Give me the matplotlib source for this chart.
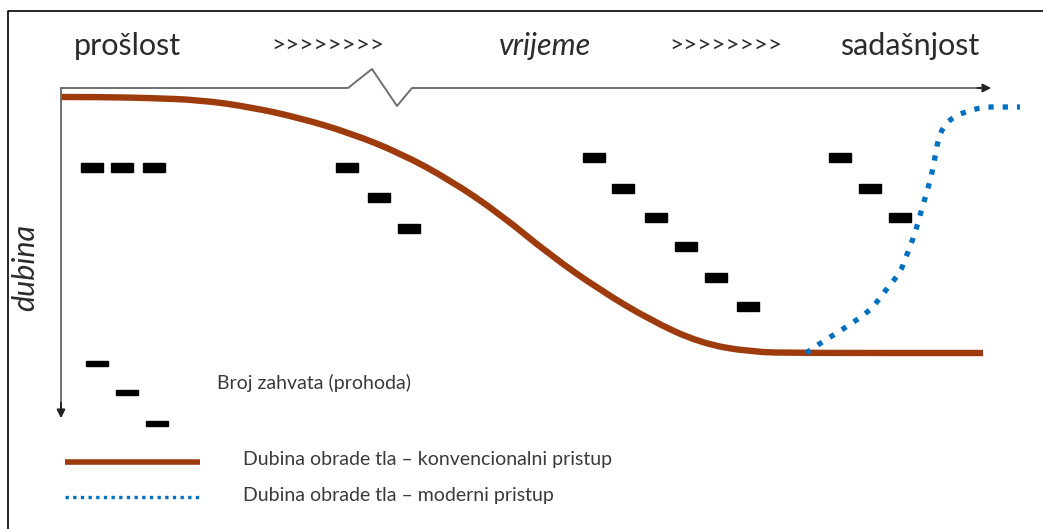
import matplotlib.pyplot as plt
from matplotlib.patches import Rectangle, PathPatch
from matplotlib.path import Path

plt.rcParams['font.family'] = ['Lato', 'DejaVu Sans']

# curve points (pixel space, y down)
conv_x = [61, 100, 150, 200, 250, 300, 350, 400, 450, 500, 550, 600, 650, 700, 750, 800, 983]
conv_y = [97, 97, 98, 100, 107, 118, 133, 153, 180, 214, 255, 290, 320, 343, 352, 353, 353]
mod_x = [806, 822, 837, 852, 867, 878, 888, 900, 906, 913, 918, 922, 927, 932, 935, 938, 943, 953,
         965, 983, 1000, 1020]
mod_y = [353, 342, 333, 323, 313, 301, 287, 273, 257, 239, 223, 208, 192, 173, 157, 140, 127, 117,
         112, 107, 107, 107]

# pass marks (Broj zahvata)
pass_x = [92, 122, 154, 347, 379, 409, 594, 623, 656, 686, 716, 748, 840, 870, 900]
pass_y = [167, 167, 167, 167, 197, 228, 157, 188, 217, 246, 277, 306, 157, 188, 217]
key_x = [97, 127, 157]
key_y = [363, 392, 423]

top_labels = ['prošlost', '>>>>>>>>', 'vrijeme', '>>>>>>>>', 'sadašnjost']
top_label_x = [127, 328, 545, 726, 910]

brown = '#9E3B0C'
blue = '#0070C0'
grey = '#6f6f6f'
txt = '#2b2b2b'


def smooth_path(xs, ys):
    # quadratic bezier through midpoints, so the drawn line has no corners
    pts = list(zip(xs, ys))
    verts = [pts[0]]
    codes = [Path.MOVETO]
    for i in range(1, len(pts) - 1):
        mid = ((pts[i][0] + pts[i + 1][0]) / 2, (pts[i][1] + pts[i + 1][1]) / 2)
        verts += [pts[i], mid]
        codes += [Path.CURVE3, Path.CURVE3]
    verts.append(pts[-1])
    codes.append(Path.LINETO)
    return Path(verts, codes)


fig = plt.figure(figsize=(10.43, 5.29), dpi=100)
ax = fig.add_axes([0, 0, 1, 1])
ax.set_xlim(0, 1043)
ax.set_ylim(529, 0)
ax.axis('off')

# frame
ax.plot([8, 8, 1043], [529, 11, 11], color='black', lw=1.2)

# time axis with break
ax.plot([61, 348, 372, 397, 412, 985], [88, 88, 69, 106, 88, 88], color=grey, lw=1.4)
ax.annotate('', xy=(994, 88), xytext=(975, 88),
            arrowprops=dict(arrowstyle='-|>', color='#222222', lw=1.4, mutation_scale=12))
# depth axis
ax.plot([61, 61], [88, 410], color=grey, lw=1.4)
ax.annotate('', xy=(61, 421), xytext=(61, 400),
            arrowprops=dict(arrowstyle='-|>', color='#222222', lw=1.4, mutation_scale=12))

ax.add_patch(PathPatch(smooth_path(conv_x, conv_y), fill=False, edgecolor=brown, lw=4.6,
                       capstyle='butt'))
ax.add_patch(PathPatch(smooth_path(mod_x, mod_y), fill=False, edgecolor=blue, lw=3.8,
                       linestyle=(0, (1, 1.7)), capstyle='butt'))

for x, y in zip(pass_x, pass_y):
    ax.add_patch(Rectangle((x - 11, y - 4.5), 22, 9, color='black'))
for x, y in zip(key_x, key_y):
    ax.add_patch(Rectangle((x - 11, y - 2.5), 22, 5, color='black'))

for lab, x in zip(top_labels, top_label_x):
    arrows = lab.startswith('>')
    ax.text(x, 46, lab, ha='center', va='center', fontsize=17.5 if arrows else 22, color=txt,
            style='italic' if lab == 'vrijeme' else 'normal')
ax.text(25, 267, 'dubina', rotation=90, ha='center', va='center', fontsize=22,
        style='italic', color=txt)

ax.text(217, 383, 'Broj zahvata (prohoda)', ha='left', va='center', fontsize=14, color='#3a3a3a')

# key
ax.plot([65, 200], [462, 462], color=brown, lw=4, solid_capstyle='butt')
ax.plot([65, 200], [497, 497], color=blue, lw=2.4, linestyle=(0, (1, 1.3)), dash_capstyle='butt')
ax.text(243, 459, 'Dubina obrade tla \u2013 konvencionalni pristup', ha='left', va='center',
        fontsize=14, color='#3a3a3a')
ax.text(243, 496, 'Dubina obrade tla \u2013 moderni pristup', ha='left', va='center',
        fontsize=14, color='#3a3a3a')

fig.savefig('out.png', dpi=100)
